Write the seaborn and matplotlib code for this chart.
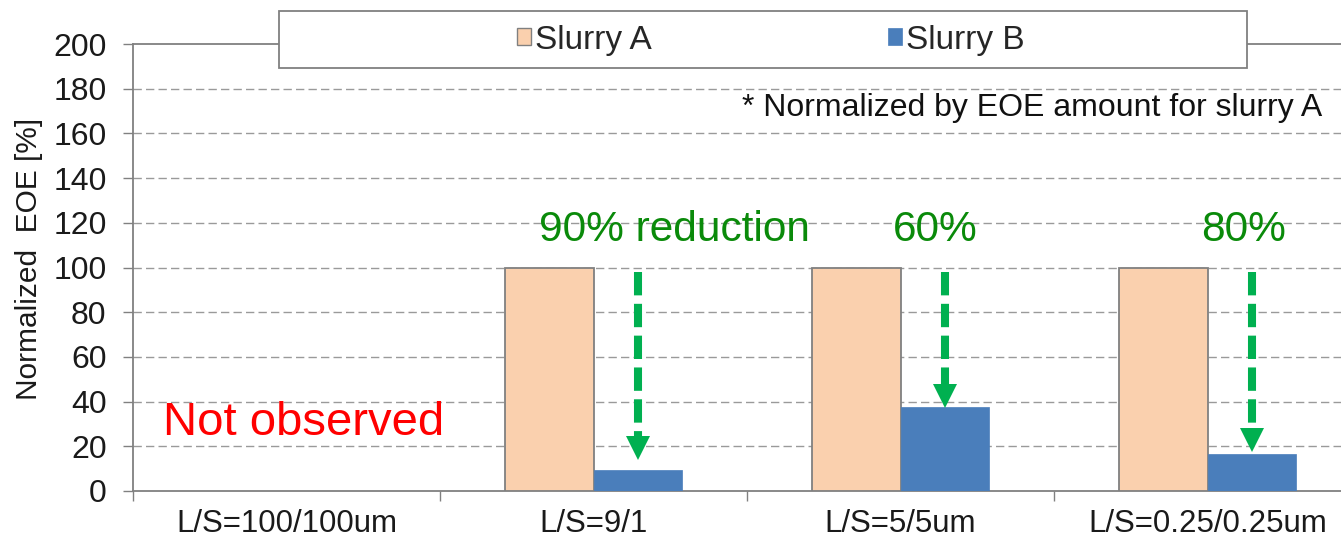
import numpy as np
import pandas as pd
import seaborn as sns
import matplotlib
matplotlib.use("Agg")
import matplotlib.pyplot as plt
from matplotlib.patches import Rectangle, Patch
from matplotlib.transforms import offset_copy

# ---------------- data ----------------
categories = ["L/S=100/100um", "L/S=9/1", "L/S=5/5um", "L/S=0.25/0.25um"]
series = ["Slurry A", "Slurry B"]
slurry_a = [np.nan, 100, 100, 100]
slurry_b = [np.nan, 9.5, 37.5, 16.5]
y_ticks = list(range(0, 201, 20))

# annotations
arrow_start = 98
arrow_tips = [14, 37.5, 17.5]          # for categories 1..3
arrow_labels = ["90% reduction", "60%", "80%"]
arrow_label_x = [1.265, 2.112, 3.116]
arrow_label_y = 117
note_text = "* Normalized by EOE amount for slurry A"
not_observed = "Not observed"

# ---------------- style ----------------
sns.set_style("white")
plt.rcParams["font.family"] = ["Liberation Sans", "DejaVu Sans"]

col_a = "#FAD0AE"
col_b = "#4A7EBB"
edge_grey = "#808080"
green_arrow = "#00B050"
green_text = "#0A8A0A"
red = "#FF0000"

W, H = 1341, 542
fig = plt.figure(figsize=(W / 100, H / 100), dpi=100)
ax = fig.add_axes([133 / W, 51 / H, 1228 / W, 447 / H])

df = pd.DataFrame({
    "category": categories * 2,
    "series": [series[0]] * len(categories) + [series[1]] * len(categories),
    "value": slurry_a + slurry_b,
})

sns.barplot(data=df, x="category", y="value", hue="series",
            order=categories, hue_order=series,
            palette={series[0]: col_a, series[1]: col_b},
            saturation=1, width=0.574, gap=0, legend=False, ax=ax,
            errorbar=None, zorder=3)

for bar in ax.containers[0]:
    bar.set_edgecolor(edge_grey)
    bar.set_linewidth(1.3)
for bar in ax.containers[1]:
    bar.set_edgecolor(col_b)
    bar.set_linewidth(0.5)

ax.set_xlim(-0.5, len(categories) - 0.5)
ax.set_ylim(0, 200)
ax.set_yticks(y_ticks)
ax.set_yticklabels([str(t) for t in y_ticks])
ax.set_xlabel("")
ax.set_ylabel("Normalized  EOE [%]", fontsize=21.5, color="#1a1a1a")
ax.yaxis.set_label_coords(-0.0735, 0.52)

# grid
for t in y_ticks[1:-1]:
    ax.axhline(t, color="#9a9a9a", lw=1.0, ls=(0, (6, 3)), zorder=1)

# spines
for s in ["left", "bottom", "top"]:
    ax.spines[s].set_visible(True)
    ax.spines[s].set_color(edge_grey)
    ax.spines[s].set_linewidth(1.3)
ax.spines["right"].set_visible(False)

ax.tick_params(axis="y", which="major", length=7, width=1.0, color=edge_grey,
               labelsize=23, labelcolor="#1a1a1a", pad=12, left=True)
ax.set_xticks(np.arange(len(categories)))
ax.set_xticklabels(categories)
ax.set_xticks(np.arange(len(categories)) - 0.5, minor=True)
ax.tick_params(axis="x", which="major", length=0, labelsize=22.5,
               labelcolor="#1a1a1a", pad=13)
ax.tick_params(axis="x", which="minor", length=7, width=1.0, color=edge_grey,
               bottom=True)

# arrows
bar_w = 0.574 / 2
head_px = 23
head_trans = offset_copy(ax.transData, fig=fig, y=head_px / 2, units="dots")
for i, tip in enumerate(arrow_tips):
    x = (i + 1) + bar_w / 2
    head_data = head_px / (447 / 200)
    ax.plot([x, x], [arrow_start, tip + head_data], color=green_arrow,
            lw=5.8, dashes=(2.9, 1.05), solid_capstyle="butt",
            dash_capstyle="butt", zorder=5)
    ax.plot([x], [tip], marker="v", ms=16.6, mew=0, color=green_arrow,
            transform=head_trans, zorder=6)
    ax.text(arrow_label_x[i], arrow_label_y, arrow_labels[i], color=green_text,
            fontsize=30.5, ha="center", va="center", zorder=7)

ax.text(0.054, 30.4, not_observed, color=red, fontsize=34,
        ha="center", va="center", zorder=7)
ax.text(3.373, 171.4, note_text, color="#111111", fontsize=23,
        ha="right", va="center", zorder=7)

# legend with its own box
fig.patches.append(Rectangle((279 / W, 1 - 68 / H), 968 / W, 57 / H,
                             transform=fig.transFigure, facecolor="white",
                             edgecolor=edge_grey, lw=1.3, zorder=10))
handles = [Patch(facecolor=col_a, edgecolor=edge_grey, lw=1.0),
           Patch(facecolor=col_b, edgecolor=col_b, lw=0.5)]
leg = fig.legend(handles, series, loc="center", ncol=2,
                 bbox_to_anchor=(771 / W, 1 - 40 / H), frameon=False,
                 fontsize=24, handlelength=0.42, handleheight=0.42,
                 handletextpad=0.12, columnspacing=7.1)
leg.set_zorder(11)

fig.savefig("out.png", dpi=100)
